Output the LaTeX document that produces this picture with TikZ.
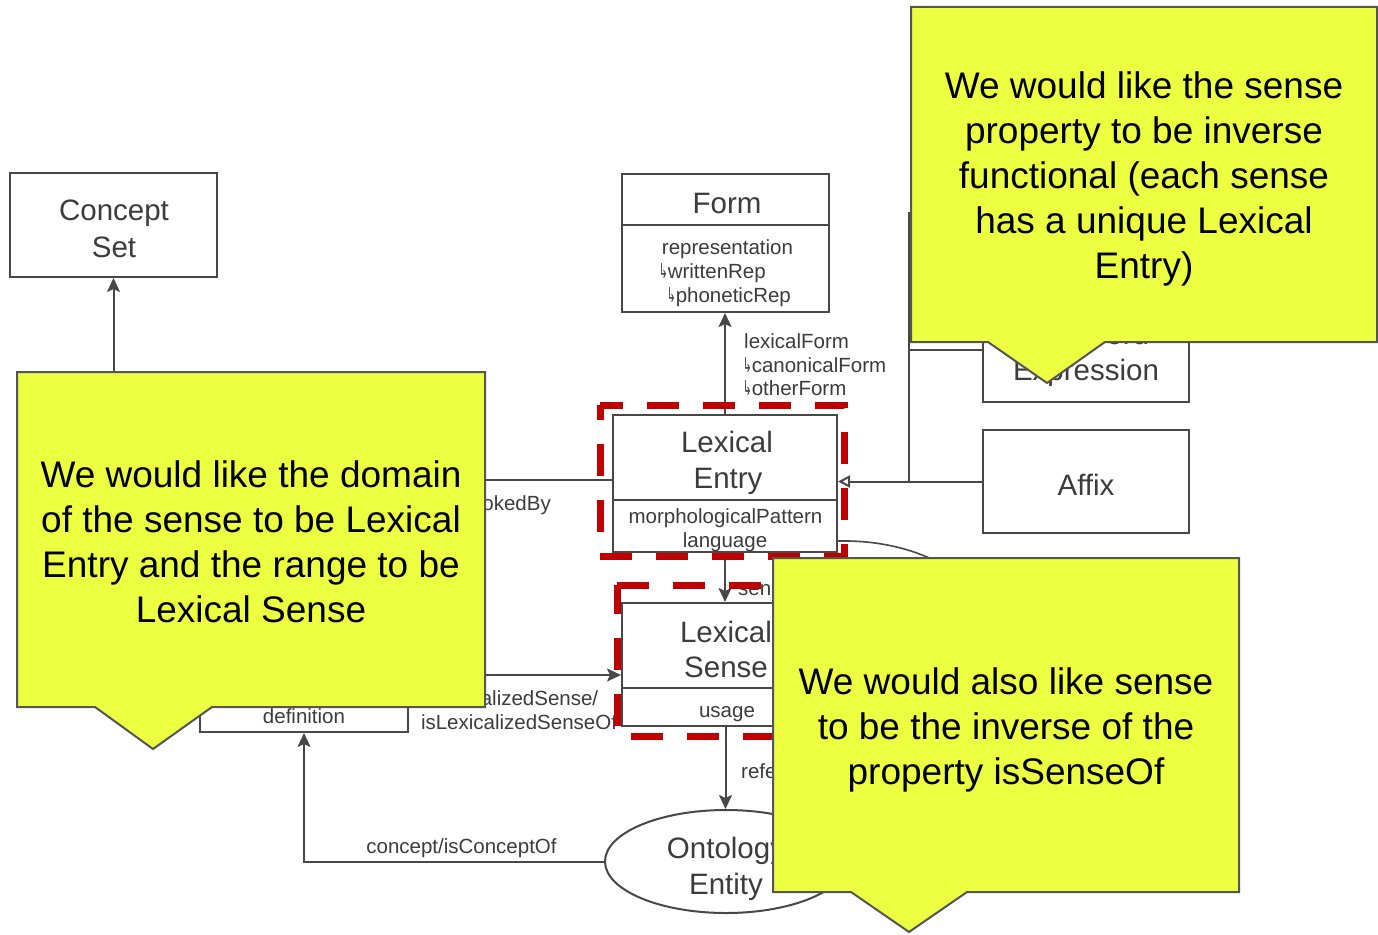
\documentclass[tikz,border=0pt]{standalone}
\usepackage{graphicx}
\usepackage{fontspec}
\setmainfont{Liberation Sans}
\newfontfamily\symf{DejaVu Sans}
\usetikzlibrary{arrows.meta,shapes.geometric,calc}

\definecolor{notefill}{RGB}{237,255,65}
\definecolor{noteline}{RGB}{85,85,85}
\definecolor{umlline}{RGB}{72,72,72}
\definecolor{umltext}{RGB}{60,60,60}
\definecolor{hilite}{RGB}{192,0,0}

% sub-property hook in front of an attribute or role name
\newcommand{\subprop}{\scalebox{0.5}[1]{\symf ↳}}

\tikzset{
  umlbox/.style={draw=umlline, line width=2pt, fill=white, inner sep=0pt},
  title/.style={text=umltext, font=\fontsize{29.5}{36}\selectfont, inner sep=0pt, anchor=base},
  attr/.style={text=umltext, font=\fontsize{20.5}{24}\selectfont, inner sep=0pt, anchor=base},
  link/.style={draw=umlline, line width=2pt},
  assoc/.style={link, -{Stealth[length=14pt,width=13pt,inset=3pt]}},
  generalize/.style={link, -{Triangle[open,length=12pt,width=12pt,fill=white]}},
  focus/.style={draw=hilite, line width=7pt, dash pattern=on 32pt off 24pt},
  note/.style={fill=notefill, draw=noteline, line width=2pt, line join=miter},
  notetext/.style={font=\fontsize{37}{45}\selectfont, align=center, inner sep=0pt, text=black, anchor=north},
}

\begin{document}
\begin{tikzpicture}[x=1pt,y=-1pt]
\useasboundingbox (0,0) rectangle (1378,934);
\fill[white] (0,0) rectangle (1378,934);

% ---------- classes ----------
\node[umlbox, minimum width=207pt, minimum height=104pt] (cset) at (113.5,225) {};
\node[title] (csetA) at (114,220) {Concept};
\node[title] (csetB) at (114,257) {Set};

\node[umlbox, minimum width=207pt, minimum height=138pt] (form) at (725.5,243) {};
\draw[link] ($(form.north west)+(0,52)$) -- ($(form.north east)+(0,52)$);
\node[title] (formA) at (727,213) {Form};
\node[attr] (formB) at (727.5,254) {representation};
\node[attr, anchor=base west] (formC) at (659,278) {\subprop writtenRep};
\node[attr, anchor=base west] (formD) at (667,302) {\subprop phoneticRep};

\node[umlbox, minimum width=224pt, minimum height=137pt] (lexent) at (725,483.5) {};
\draw[link] ($(lexent.north west)+(0,86)$) -- ($(lexent.north east)+(0,86)$);
\node[title] (lexentA) at (727,452) {Lexical};
\node[title] (lexentB) at (728,488) {Entry};
\node[attr] (lexentC) at (725.5,523) {morphologicalPattern};
\node[attr] (lexentD) at (725,547) {language};

\node[umlbox, minimum width=207pt, minimum height=123pt] (lexsense) at (725.5,664.5) {};
\draw[link] ($(lexsense.north west)+(0,86)$) -- ($(lexsense.north east)+(0,86)$);
\node[title] (lexsenseA) at (726,642) {Lexical};
\node[title] (lexsenseB) at (726,677) {Sense};
\node[attr] (lexsenseC) at (727,717) {usage};

\node[umlbox, minimum width=208pt, minimum height=114pt] (lexcon) at (304,675) {};
\draw[link] ($(lexcon.north west)+(0,82)$) -- ($(lexcon.north east)+(0,82)$);
\node[attr] (lexconA) at (304,723) {definition};

\node[umlbox, ellipse, minimum width=242pt, minimum height=103pt] (onto) at (726,861.5) {};
\node[title] (ontoA) at (726,858) {Ontology};
\node[title] (ontoB) at (726,894) {Entity};

\node[umlbox, minimum width=206pt, minimum height=104pt] (mwe) at (1086,350) {};
\node[title] (mweA) at (1086,344) {Multiword};
\node[title] (mweB) at (1086,380) {Expression};

\node[umlbox, minimum width=206pt, minimum height=103pt] (affix) at (1086,481.5) {};
\node[title] (affixA) at (1086,495) {Affix};

% ---------- relations ----------
\coordinate (csfoot) at (113.5,400);
\draw[assoc] (csfoot) -- (cset.south);

\draw[assoc] (lexent.north) -- (lexent.north |- form.south);
\node[attr, anchor=base west] (lfA) at (744,348) {lexicalForm};
\node[attr, anchor=base west] (lfB) at (743,372) {\subprop canonicalForm};
\node[attr, anchor=base west] (lfC) at (743,395) {\subprop otherForm};

\draw[assoc] (lexent.south) -- (lexent.south |- lexsense.north);
\node[attr, anchor=base west] (senseL) at (738,595) {sense};

\draw[assoc] (lexsense.south) -- (lexsense.south |- onto.north);
\node[attr, anchor=base west] (refL) at (741,778) {reference};

\draw[assoc] (onto.west) -| (lexcon.south);
\node[attr] (conceptL) at (461.5,853) {concept/isConceptOf};

\draw[assoc] (lexcon.east) -- (lexcon.east -| lexsense.west);
\node[attr] (lexzA) at (519,705) {lexicalizedSense/};
\node[attr] (lexzB) at (519,729) {isLexicalizedSenseOf};

\coordinate (evk) at (430,480);
\draw[link] (evk) -- (evk -| lexent.west);
\node[attr, anchor=base east] (evkL) at (551,510) {evokedBy};

\coordinate (jn) at (908.5,481.5);
\coordinate (wd) at (960,213);
\draw[link] (wd) -| (jn);
\draw[link] (mwe.west) -- (mwe.west -| jn);
\draw[generalize] (affix.west) -- (affix.west -| lexent.east);

\coordinate (arcend) at (955,572);
\draw[link, line width=1.6pt] ($(lexent.south east)+(0,-12)$) .. controls (885,540) and (925,552) .. (arcend);

% ---------- highlighted classes ----------
\draw[focus, dash phase=9pt] (600,405) -- (844,405) -- (844,556) -- (600,556) -- cycle;
\draw[focus] (617,585) -- (844,585) -- (844,736.5) -- (617,736.5) -- cycle;

% ---------- notes ----------
\path[note] (17,372) -- (485,372) -- (485,707) -- (212,707) -- (153,749) -- (95,707) -- (17,707) -- cycle;
\node[notetext] (noteL) at (251,460.5) {We would like the domain\\of the sense to be Lexical\\Entry and the range to be\\Lexical Sense};

\path[note] (911,7) -- (1377,7) -- (1377,342) -- (1105,342) -- (1047,383) -- (988,342) -- (911,342) -- cycle;
\node[notetext] (noteT) at (1144,71.5) {We would like the sense\\property to be inverse\\functional (each sense\\has a unique Lexical\\Entry)};

\path[note] (773,558) -- (1239,558) -- (1239,892) -- (967,892) -- (909,932) -- (851,892) -- (773,892) -- cycle;
\node[notetext] (noteB) at (1006,667.5) {We would also like sense\\to be the inverse of the\\property isSenseOf};
\end{tikzpicture}
\end{document}
